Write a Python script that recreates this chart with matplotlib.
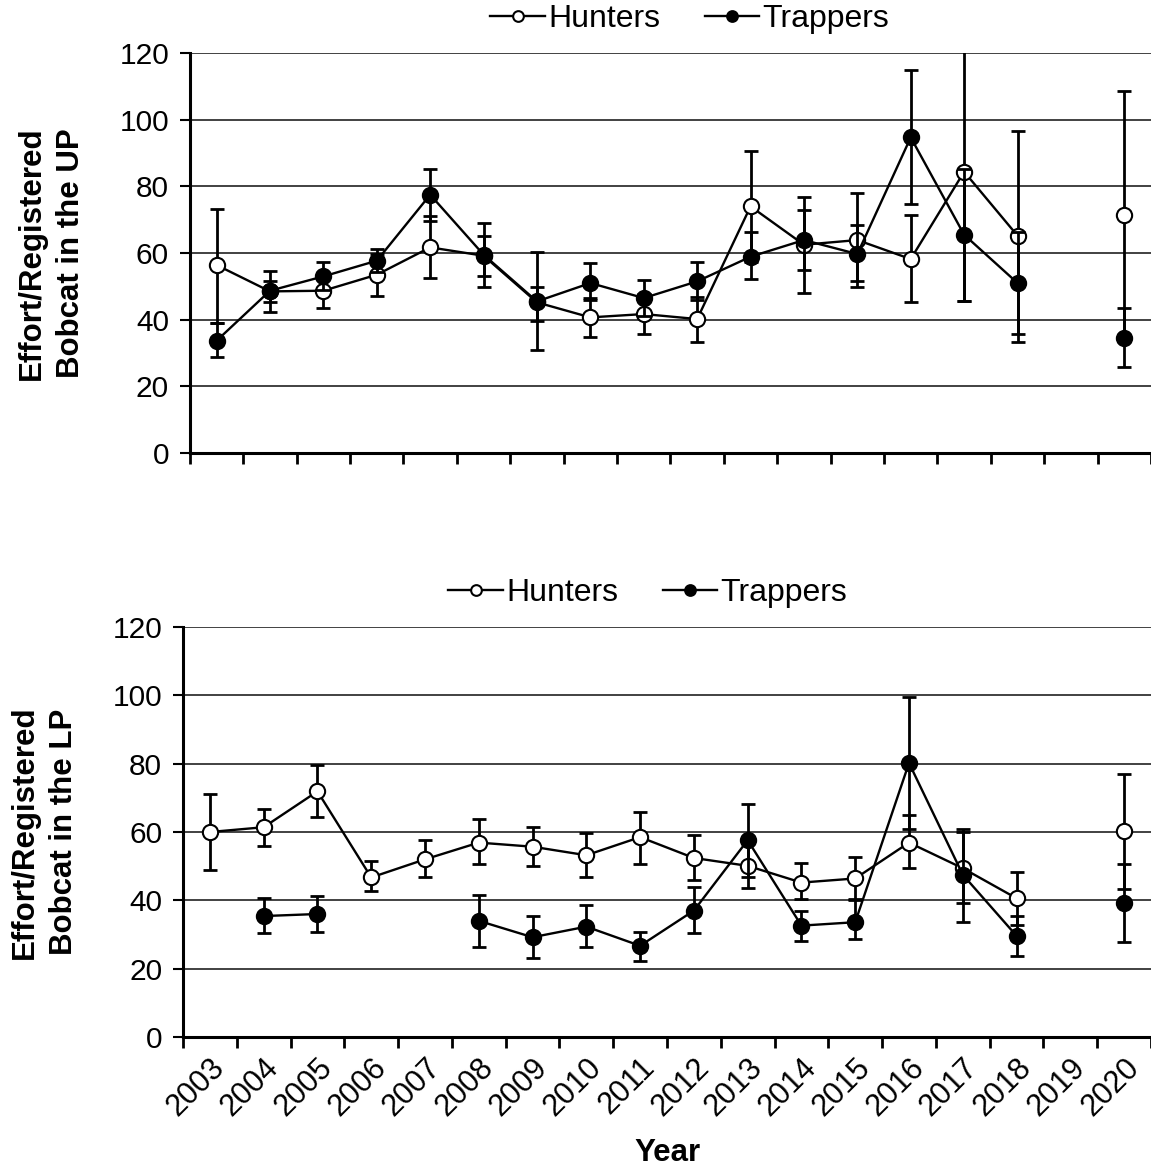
import numpy as np
import matplotlib
matplotlib.use('Agg')
import matplotlib.pyplot as plt

plt.rcParams['font.family'] = ['Liberation Sans', 'DejaVu Sans']

nan = np.nan

# Years (categories)
years = [str(y) for y in range(2003, 2021)]

# Upper Peninsula: mean and lower / upper bounds of error bars
up_hunt = [56.4, 48.5, 48.7, 53.5, 61.7, 59.2, 45.2, 40.7, 41.7, 40.2, 74.0, 62.5, 63.9, 58.2, 84.4, 65.2, nan, 71.4]
up_hunt_lo = [39.0, 45.2, 43.4, 47.2, 52.5, 53.2, 30.9, 34.9, 35.7, 33.4, 57.3, 54.9, 49.9, 45.2, 45.7, 33.4, nan, 34.4]
up_hunt_hi = [73.2, 51.7, 54.0, 59.8, 71.0, 65.2, 60.2, 46.5, 47.7, 46.7, 90.7, 72.9, 77.9, 71.4, 123.0, 96.7, nan, 108.5]

up_trap = [33.7, 48.7, 53.0, 57.7, 77.5, 59.5, 45.5, 51.0, 46.5, 51.5, 58.9, 63.9, 59.7, 94.7, 65.5, 51.0, nan, 34.5]
up_trap_lo = [28.9, 42.2, 48.8, 54.2, 69.7, 49.7, 39.7, 46.0, 41.1, 45.9, 52.2, 48.0, 51.5, 74.7, 45.7, 35.7, nan, 25.7]
up_trap_hi = [39.0, 54.5, 57.2, 61.2, 85.2, 69.0, 49.7, 56.9, 51.9, 57.2, 66.4, 76.9, 68.4, 115.0, 85.3, 66.3, nan, 43.4]

# Lower Peninsula
lp_hunt = [60.0, 61.4, 71.9, 46.7, 52.0, 56.9, 55.7, 53.2, 58.5, 52.4, 50.1, 45.2, 46.4, 56.9, 49.4, 40.6, nan, 60.2]
lp_hunt_lo = [48.8, 55.8, 64.4, 42.8, 46.9, 50.6, 50.1, 46.9, 50.6, 45.9, 43.5, 40.3, 40.3, 49.5, 39.1, 32.8, nan, 43.4]
lp_hunt_hi = [71.2, 66.6, 79.5, 51.4, 57.8, 63.7, 61.5, 59.8, 65.9, 59.2, 56.7, 51.0, 52.7, 64.9, 60.0, 48.3, nan, 77.0]

lp_trap = [nan, 35.4, 36.0, nan, nan, 34.0, 29.2, 32.3, 26.7, 37.0, 57.6, 32.6, 33.6, 80.2, 47.5, 29.6, nan, 39.3]
lp_trap_lo = [nan, 30.5, 30.8, nan, nan, 26.3, 23.2, 26.3, 22.3, 30.4, 46.9, 28.1, 28.6, 60.8, 33.8, 23.7, nan, 27.9]
lp_trap_hi = [nan, 40.6, 41.2, nan, nan, 41.5, 35.4, 38.6, 30.6, 44.0, 68.3, 37.0, 40.1, 99.4, 61.0, 35.5, nan, 50.6]


def draw_series(ax, x, y, lo, hi, filled, label):
    y = np.array(y)
    err = np.vstack([y - np.array(lo), np.array(hi) - y])
    ax.errorbar(x, y, yerr=err, fmt='none', ecolor='black', elinewidth=2.0,
                capsize=5, capthick=2.0, zorder=3 if not filled else 5, clip_on=True)
    ax.plot(x, y, color='black', lw=1.7, marker='o', ms=11,
            mfc='black' if filled else 'white', mec='black', mew=1.5,
            zorder=4 if not filled else 6, label=label)


def setup_axes(ax, ylabel, show_years, legend_x):
    n = len(years)
    ax.set_xlim(0, n)
    ax.set_ylim(0, 120)
    ax.set_yticks(range(0, 121, 20))
    ax.yaxis.grid(True, color='#333333', lw=1.3)
    ax.set_axisbelow(True)
    for s in ['top', 'right']:
        ax.spines[s].set_visible(False)
    for s in ['left', 'bottom']:
        ax.spines[s].set_linewidth(2.2)
    ax.set_xticks(range(0, n + 1))
    ax.set_xticklabels([])
    ax.tick_params(axis='x', which='major', direction='out', length=8, width=2)
    ax.tick_params(axis='y', direction='out', length=7, width=1.5, labelsize=21.5, pad=8)
    if show_years:
        ax.set_xticks(np.arange(n) + 0.5, minor=True)
        ax.set_xticklabels(years, minor=True, rotation=45, ha='right', va='top',
                           rotation_mode='anchor', fontsize=22)
        ax.tick_params(axis='x', which='minor', length=0, pad=11)
    ax.set_ylabel(ylabel, fontsize=22.5, fontweight='bold', labelpad=24, linespacing=1.4)
    ax.legend(loc='lower center', bbox_to_anchor=(legend_x, 1.0), ncol=2, frameon=False,
              fontsize=23, handlelength=1.7, handletextpad=0.1, columnspacing=1.4,
              markerscale=0.7, borderaxespad=0.2)


fig = plt.figure(figsize=(11.51, 11.74), dpi=100)
ax1 = fig.add_axes([0.165, 0.6141, 0.835, 0.3407])
ax2 = fig.add_axes([0.159, 0.1167, 0.841, 0.3492])

x = np.arange(len(years)) + 0.5

draw_series(ax1, x, up_hunt, up_hunt_lo, up_hunt_hi, False, 'Hunters')
draw_series(ax1, x, up_trap, up_trap_lo, up_trap_hi, True, 'Trappers')
setup_axes(ax1, 'Effort/Registered\nBobcat in the UP', False, 0.52)

draw_series(ax2, x, lp_hunt, lp_hunt_lo, lp_hunt_hi, False, 'Hunters')
draw_series(ax2, x, lp_trap, lp_trap_lo, lp_trap_hi, True, 'Trappers')
setup_axes(ax2, 'Effort/Registered\nBobcat in the LP', True, 0.48)
ax2.set_xlabel('Year', fontsize=22.5, fontweight='bold', labelpad=12)

fig.savefig('out.png', dpi=100)
